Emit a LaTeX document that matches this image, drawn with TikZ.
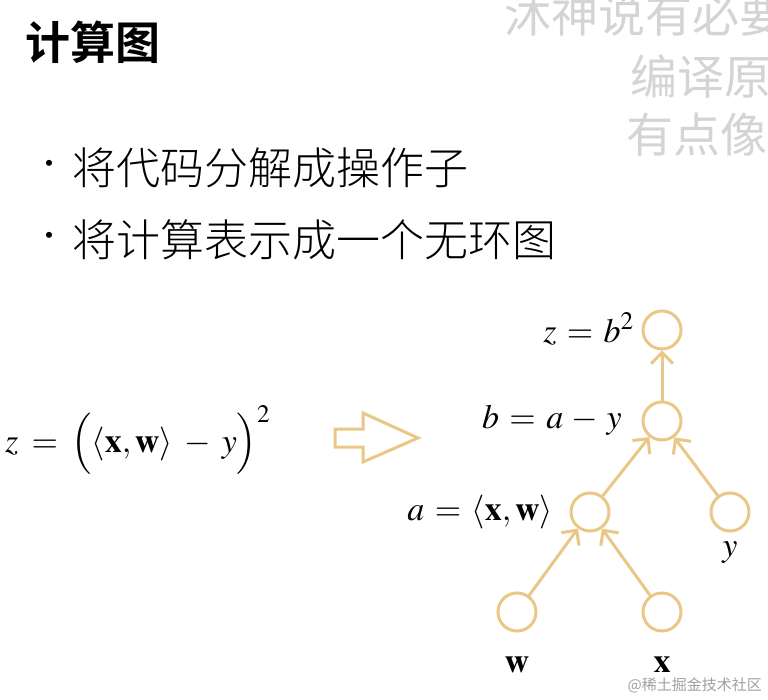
\documentclass[tikz,border=0pt]{standalone}
\usepackage{mathptmx}
\usepackage[no-math]{fontspec}
\newfontfamily\cjk{Noto Sans CJK SC}[BoldFont={Noto Sans CJK SC Bold}]
\IfFontExistsTF{Noto Sans CJK SC Light}
  {\newfontfamily\cjklight{Noto Sans CJK SC Light}}
  {\newfontfamily\cjklight{Noto Sans CJK SC}}
\usetikzlibrary{arrows.meta}
\definecolor{tan}{RGB}{234,199,134}
\definecolor{wm}{RGB}{212,212,212}
\newcommand\widemath{\thickmuskip=7mu\relax\medmuskip=6mu\relax}
\newcommand\labmath{\thickmuskip=5.5mu\relax\medmuskip=4.5mu\relax}
\tikzset{
  vert/.style={circle,draw=tan,line width=3pt,minimum size=38pt,inner sep=0pt},
  edge/.style={draw=tan,line width=3pt,-{Straight Barb[length=11pt,width=22pt,line width=3pt]}},
  mth/.style={inner sep=0pt,font=\fontsize{34}{34}\selectfont},
  bul/.style={anchor=west,inner sep=0pt,font=\cjklight\fontsize{44}{44}\selectfont},
  wmark/.style={anchor=west,inner sep=0pt,text=wm,font=\cjk\fontsize{47}{47}\selectfont}
}
\begin{document}
\begin{tikzpicture}[x=1pt,y=-1pt]
\useasboundingbox (0,0) rectangle (768,700);
% watermark subtitles (cut at the right edge, as in the reference)
\node[wmark] (s1) at (504,15) {沐神说有必要};
\node[wmark] (s2) at (630,77) {编译原};
\node[wmark] (s3) at (626,135) {有点像};
% title
\node[anchor=west,inner sep=0pt,font=\cjk\bfseries\fontsize{45}{45}\selectfont] (title) at (25,42) {计算图};
% bullets
\node[bul] (d1) at (33,168) {\fontsize{32}{32}\selectfont •};
\node[bul] (b1) at (72,168) {将代码分解成操作子};
\node[bul] (d2) at (33,240) {\fontsize{32}{32}\selectfont •};
\node[bul] (b2) at (72,240) {将计算表示成一个无环图};
% formula
\node[mth,anchor=base west] (f) at (5,452) {$\widemath z = \Bigl(\langle \mathbf{x}, \mathbf{w}\rangle - y\Bigr)^{2}$};
% hollow arrow
\draw[tan,line width=3pt,line join=miter] (335,429) -- (363,429) -- (363,413) -- (418,438) -- (363,462) -- (363,447) -- (335,447) -- cycle;
% graph
\node[vert] (z) at (662,330) {};
\node[vert] (b) at (662,421) {};
\node[vert] (a) at (590,512) {};
\node[vert] (y) at (730,512) {};
\node[vert] (w) at (517,612) {};
\node[vert] (x) at (662,612) {};
\draw[edge] (b) -- (z);
\draw[edge] (a) -- (b);
\draw[edge] (y) -- (b);
\draw[edge] (w) -- (a);
\draw[edge] (x) -- (a);
\node[mth,anchor=base east] (lz) at (634,342) {$\labmath z = b^2$};
\node[mth,anchor=base east] (lb) at (622,428) {$\labmath b = a - y$};
\node[mth,anchor=base east] (la) at (553,520) {$\labmath a = \langle \mathbf{x}, \mathbf{w}\rangle$};
\node[mth,anchor=base] (ly) at (730,556) {$y$};
\node[mth,anchor=base] (lw) at (517,672) {$\mathbf{w}$};
\node[mth,anchor=base] (lx) at (662,672) {$\mathbf{x}$};
% site watermark
\node[anchor=base east,inner sep=0pt,text=wm!75!black,font=\cjk\fontsize{15}{15}\selectfont] (site) at (762,690) {@稀土掘金技术社区};
\end{tikzpicture}
\end{document}
